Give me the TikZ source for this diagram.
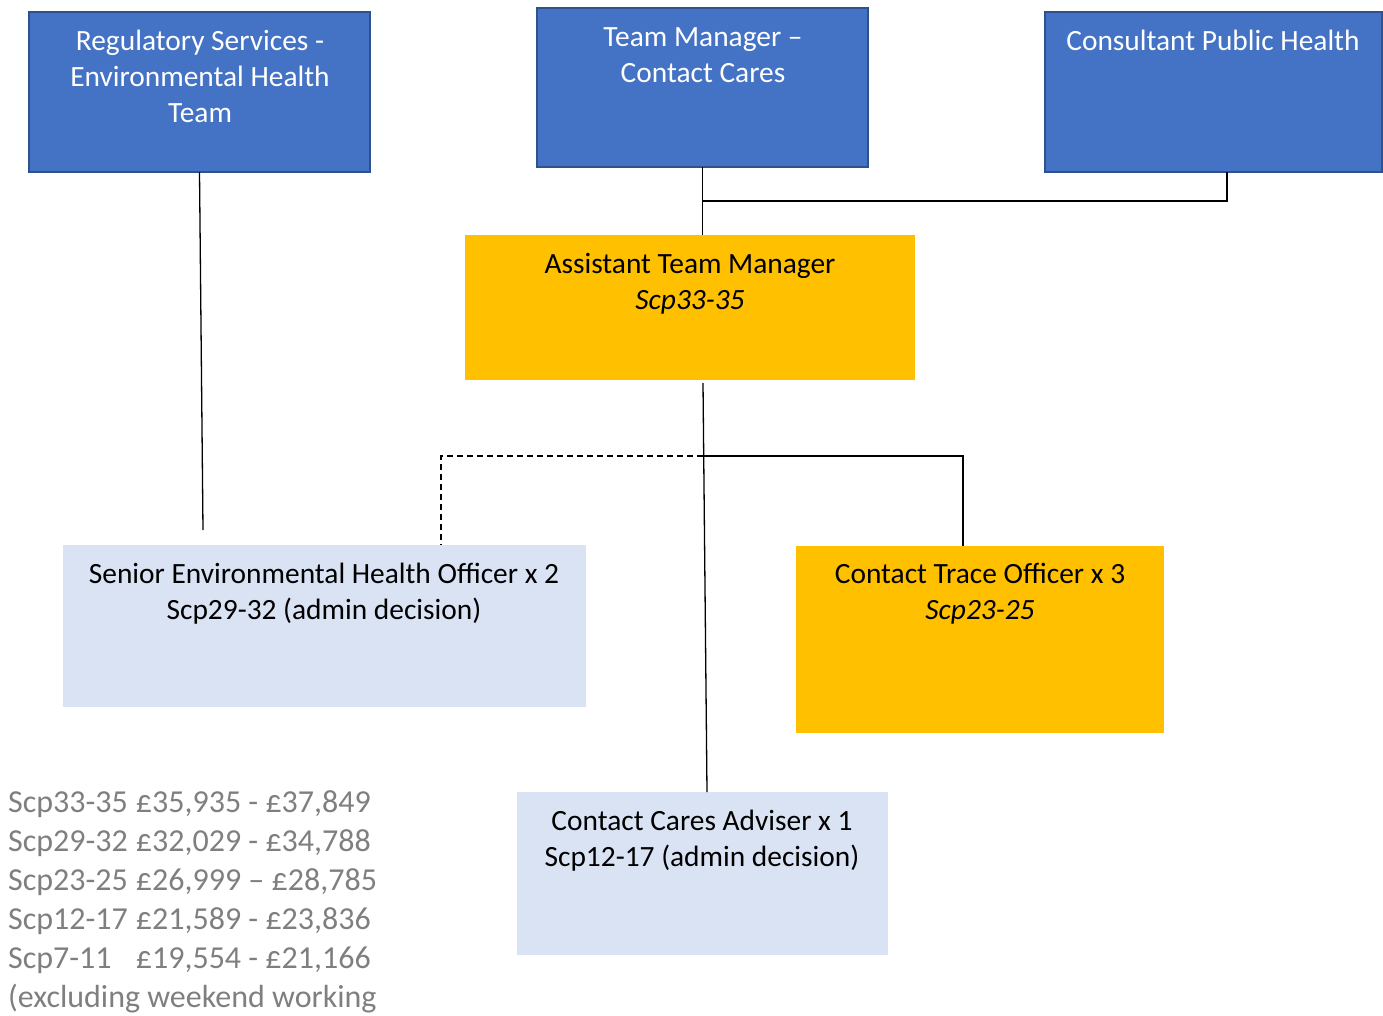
\documentclass[tikz,border=0pt]{standalone}
\usepackage{fontspec}
\setmainfont{Carlito}
\definecolor{bluefill}{HTML}{4472C4}
\definecolor{blueedge}{HTML}{2F528F}
\definecolor{goldfill}{HTML}{FFC000}
\definecolor{palefill}{HTML}{DAE3F3}
\definecolor{legendgray}{HTML}{7F7F7F}
\begin{document}
\begin{tikzpicture}[x=1pt,y=-1pt,
  bluebox/.style={draw=blueedge, line width=2pt, fill=bluefill, anchor=north west, inner sep=0pt, outer sep=0pt},
  goldbox/.style={fill=goldfill, anchor=north west, inner sep=0pt, outer sep=0pt},
  palebox/.style={fill=palefill, anchor=north west, inner sep=0pt, outer sep=0pt},
  wtext/.style={text=white, align=center, anchor=base, inner sep=0pt, font=\fontsize{29.4}{36}\selectfont},
  btext/.style={text=black, align=center, anchor=base, inner sep=0pt, font=\fontsize{29.4}{36}\selectfont},
  conn/.style={draw=black, line width=1.3pt},
  dconn/.style={draw=black, line width=1.3pt, dash pattern=on 6pt off 4pt}]
\useasboundingbox (0,0) rectangle (1383,1015);

% boxes
\node[bluebox, minimum width=341pt, minimum height=160pt] (reg) at (29,12) {};
\node[bluebox, minimum width=331pt, minimum height=159pt] (tm) at (537,8) {};
\node[bluebox, minimum width=337pt, minimum height=160pt] (cph) at (1045,12) {};
\node[goldbox, minimum width=450pt, minimum height=145pt] (atm) at (465,235) {};
\node[palebox, minimum width=523pt, minimum height=162pt] (seho) at (63,545) {};
\node[goldbox, minimum width=368pt, minimum height=187pt] (cto) at (796,546) {};
\node[palebox, minimum width=371pt, minimum height=163pt] (cca) at (517,792) {};

% texts (anchor=base is the baseline of the last line)
\node[wtext] (regt) at (200,122) {Regulatory Services -\\Environmental Health\\Team};
\node[wtext] (tmt) at (703,82) {Team Manager –\\Contact Cares};
\node[wtext] (cpht) at (1213,50) {Consultant Public Health};
\node[btext] (atmt) at (690,309) {Assistant Team Manager\\\textit{Scp33-35}};
\node[btext] (sehot) at (324,619) {Senior Environmental Health Officer x 2\\Scp29-32 (admin decision)};
\node[btext] (ctot) at (980,619) {Contact Trace Officer x 3\\\textit{Scp23-25}};
\node[btext] (ccat) at (702,866) {Contact Cares Adviser x 1\\Scp12-17 (admin decision)};

% legend
\node[anchor=base west, inner sep=0pt, text=legendgray, font=\fontsize{32}{39}\selectfont] (legend) at (8,812)
{\begin{tabular}[t]{@{}l@{\hspace{0.25em}}l@{}}
Scp33-35 & £35,935 - £37,849\\
Scp29-32 & £32,029 - £34,788\\
Scp23-25 & £26,999 – £28,785\\
Scp12-17 & £21,589 - £23,836\\
Scp7-11 & £19,554 - £21,166\\
\multicolumn{2}{@{}l@{}}{(excluding weekend working}
\end{tabular}};

% connectors
\coordinate (regend) at (203,530);
\coordinate (j1) at (703,201);
\coordinate (j2) at (703,456);
\draw[conn] (reg.south) -- (regend);
\draw[conn] (tm.south) -- (atm.north -| tm.south);
\draw[conn] (j1) -| ([xshift=13.5pt]cph.south);
\draw[conn] ([xshift=13pt,yshift=-3pt]atm.south) -- ([xshift=4.5pt]cca.north);
\draw[conn] (j2) -| ([xshift=-17pt]cto.north);
\draw[dconn] (j2) -| ([xshift=116.5pt]seho.north);
\end{tikzpicture}
\end{document}
